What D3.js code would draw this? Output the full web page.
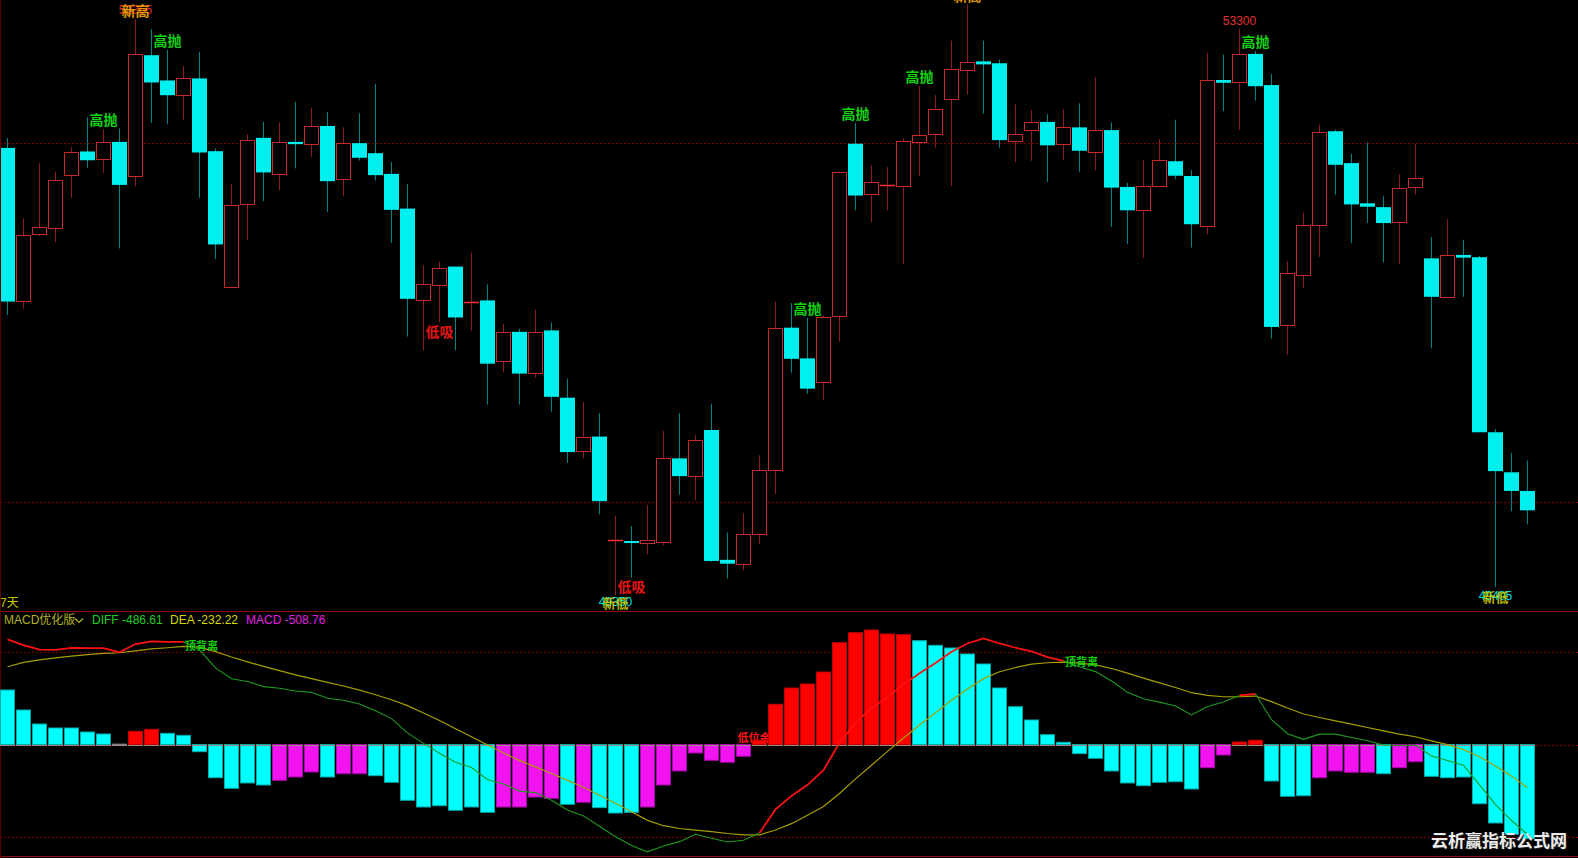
<!DOCTYPE html>
<html><head><meta charset="utf-8">
<script src="https://cdn.jsdelivr.net/npm/d3@7"></script>
<style>
html,body{margin:0;padding:0;background:#000;overflow:hidden}
svg{display:block}
</style></head><body>
<svg id="c" width="1578" height="858"></svg>
<script>
// ---------- data ----------
const opens  = [52468,51397,51862,51911,52280,52443,52385,52510,52273,53114,52938,52835,52952,52445,51496,52074,52538,52285,52510,52499,52621,52245,52501,52431,52287,52045,51405,51513,51641,51386,51405,50985,51186,50901,51196,50727,50359,50456,49732,49728,49719,49725,50304,50177,50502,49597,49562,49774,50218,51215,51001,50830,51299,52497,52145,52204,52199,52511,52559,52803,53012,53071,53058,52522,52595,52649,52492,52611,52440,52592,52196,52036,52204,52375,52272,51926,52941,52922,53123,52906,51234,51583,51930,52584,52362,52082,52055,51953,52196,51698,51432,51722,51706,50486,50207,50077];
const highs  = [52538,51976,52362,52301,52473,52682,52598,52603,53365,53295,53151,53039,53137,52464,52217,52561,52649,52645,52789,52747,52719,52612,52710,52914,52369,52215,51651,51673,51641,51738,51516,51240,51207,51342,51251,50860,50697,50619,49903,49833,49979,50495,50619,50467,50684,49787,49923,50326,51394,51386,51283,51299,52302,52641,52348,52334,52535,52898,52836,53215,53470,53215,53083,52770,52730,52703,52738,52779,52961,52646,52224,52386,52529,52665,52313,53131,53117,53300,53144,52982,51679,52017,52630,52595,52426,52505,52131,52283,52495,51847,51971,51828,51716,50508,50343,50289];
const lows   = [51303,51347,51853,51813,52120,52329,52294,51767,52201,52642,52633,52666,52120,51693,51496,51827,52097,52173,52325,52405,52022,52134,52380,52241,51806,51153,51055,51253,51058,51193,50679,50904,50679,50868,50630,50272,50304,49914,49350,49473,49635,49698,50050,50012,49583,49467,49524,49708,50055,50901,50754,50711,51117,52033,51950,52033,51657,52270,52470,52204,52839,52706,52470,52370,52378,52231,52386,52302,52313,51917,51798,51703,52204,52250,51774,51866,52724,52595,52798,51139,51025,51491,51708,52142,51804,51944,51670,51657,52142,51071,51421,51430,50486,49405,49936,49844];
const closes = [51397,51858,51914,52243,52438,52382,52506,52210,53123,52924,52835,52956,52436,51795,52067,52520,52297,52506,52494,52624,52236,52499,52399,52278,52036,51416,51516,51632,51286,51397,50964,51186,50895,51186,50733,50348,50456,50006,49735,49717,49738,50307,50180,50429,49589,49570,49774,50221,51210,50998,50790,51286,52302,52136,52231,52212,52513,52559,52736,53015,53066,53050,52522,52568,52649,52486,52611,52448,52592,52191,52033,52204,52386,52274,51936,52941,52922,53120,52898,51220,51595,51930,52578,52350,52074,52058,51944,52188,52258,51430,51722,51703,50486,50215,50077,49942];

const diffVals = [568.6,537,513,512,522,521,521,498,543,557,555,555,512,414,355,341,313,304,289,282,250,239,219,183,140,63,6,-47,-96,-124,-189,-213,-252,-260,-301,-354,-386,-442,-499,-546,-580,-549,-525,-485,-507,-527,-518,-478,-351,-278,-218,-139,9,117,197,255,325,385,440,501,546,573,546,523,504,472,452,420,394,343,282,247,229,208,160,205,230,265,273,134,58,28,56,56,38,20,-3,-6,-4,-62,-87,-112,-218,-325,-411,-486.61];
const deaVals  = [420.5,444,457,468,478,486,493,496,506,517,523,530,526,502,473,447,422,399,376,356,336,316,294,269,242,210,170,130,85,42,-3,-46,-86,-121,-157,-194,-231,-274,-318,-364,-410,-439,-454,-463,-471,-481,-489,-489,-462,-428,-382,-335,-265,-186,-112,-37,35,105,172,239,300,356,393,416,434,442,445,440,430,411,386,359,333,308,280,266,258,258,262,232,197,165,146,128,110,92,74,56,42,20,-1,-28,-66,-116,-171,-232.22];
const macdVals = [294.6,186.5,110.8,89.2,89.2,67.6,56.8,2,71.2,82,60.5,49.7,-38.9,-179.5,-236.8,-208,-219,-193.7,-175.7,-148.6,-175.7,-157.7,-157.7,-168.6,-204.3,-301.6,-337.8,-330.8,-355.7,-337.8,-366.5,-337.8,-337.8,-283.8,-291,-323.4,-312.4,-341.4,-370.3,-366.5,-337.8,-218.9,-143.2,-45.9,-85.4,-96.2,-63.8,24.3,217.3,305.4,327,391.9,550.3,604.3,618.9,597.3,593.5,561,536.2,521.6,489.2,435.1,305.4,204.3,132.4,53,11.9,-49.7,-74.6,-143.2,-208,-222.7,-204.3,-201.1,-240.5,-125.4,-56.8,13.5,22.7,-197.3,-280,-276.8,-179.5,-143.2,-150.3,-150.3,-157.8,-125.4,-93,-171.9,-179.5,-175.7,-320,-424.3,-485.4,-508.76];
// bar state as shown by the indicator: C falling, M negative rising, R positive rising, G flat
const macdState = ("CCCCCCC"+"G"+"RR"+"CCCCCCC"+"MMM"+"C"+"MM"+"CCCCCCCC"+"MMMM"+"C"+"M"+"CCC"+"MMMMMMM"+"RRRRRRRRRR"+"CCCCCCCCCCCCCCCCCC"+"MM"+"RR"+"CCC"+"MMMM"+"C"+"MM"+"CCCCCCC").split("");

const priceGrid = [52500, 50000];
const macdGrid  = [500, 0, -500];
const sellIdx   = [6, 10, 50, 53, 57, 78];      // 高抛
const buyIdx    = [27, 39];                     // 低吸
const newHighIdx= [8, 60];                      // 新高
const newLowIdx = [38, 93];                     // 新低
const priceTagIdx = [77];                       // 53300
const topDivIdx = [12, 67];                     // 顶背离
const lowGoldIdx= [47];                         // 低位金叉

// ---------- scales ----------
const N = opens.length;
const x = d3.scaleBand().domain(d3.range(N)).range([0, 16 * N]);
const cx = i => x(i) + 7.5;
const y = d3.scaleLinear().domain([50000, 52500]).range([502, 143.3]);
const ym = d3.scaleLinear().domain([-500, 500]).range([837, 652]);
const crisp = v => Math.round(v) + 0.5;

const CJK = "'Noto Sans CJK SC', sans-serif";
const LAT = "'Liberation Sans', Arial, 'Noto Sans CJK SC', sans-serif";

const svg = d3.select('#c');
svg.append('rect').attr('width', 1578).attr('height', 858).attr('fill', '#000');
const defs = svg.append('defs');
defs.append('clipPath').attr('id', 'mainClip').append('rect').attr('x', 0).attr('y', 0).attr('width', 1578).attr('height', 611);
defs.append('clipPath').attr('id', 'macdClip').append('rect').attr('x', 0).attr('y', 612).attr('width', 1578).attr('height', 244);

// ---------- main pane ----------
const main = svg.append('g').attr('clip-path', 'url(#mainClip)');
main.selectAll('line.grid').data(priceGrid).join('line').attr('class', 'grid')
  .attr('x1', 0).attr('x2', 1578).attr('y1', d => crisp(y(d))).attr('y2', d => crisp(y(d)))
  .attr('stroke', '#7a0000').attr('stroke-dasharray', '2,2');

const candles = d3.range(N).map(i => ({ i, o: opens[i], h: highs[i], l: lows[i], c: closes[i], up: closes[i] >= opens[i] }));
const cg = main.append('g');
cg.selectAll('line.wick').data(candles).join('line').attr('class', 'wick')
  .attr('x1', d => cx(d.i)).attr('x2', d => cx(d.i))
  .attr('y1', d => y(d.h)).attr('y2', d => y(d.l))
  .attr('stroke', d => d.up ? '#8e1c1c' : '#008585').attr('stroke-width', 1);

candles.forEach(d => {
  const top = y(Math.max(d.o, d.c)), bot = y(Math.min(d.o, d.c));
  const h = bot - top;
  if (d.up) {
    if (h < 1.6) {
      cg.append('line').attr('x1', x(d.i)).attr('x2', x(d.i) + 15)
        .attr('y1', crisp(top)).attr('y2', crisp(top))
        .attr('stroke', '#ff2e2e').attr('stroke-width', 1.5);
    } else {
      cg.append('rect').attr('x', x(d.i) + 0.5).attr('y', crisp(top))
        .attr('width', 14).attr('height', Math.round(h))
        .attr('fill', '#000').attr('stroke', '#c42b2b').attr('stroke-width', 1);
    }
  } else {
    cg.append('rect').attr('x', x(d.i)).attr('y', top)
      .attr('width', 15).attr('height', Math.max(h, 2))
      .attr('fill', '#00efef');
  }
});

// annotations
const lab = main.append('g').attr('font-family', CJK).attr('text-anchor', 'middle').attr('dominant-baseline', 'central');
lab.selectAll('text.sell').data(sellIdx).join('text').attr('class', 'sell')
  .attr('x', i => cx(i)).attr('y', i => y(highs[i]) - 10)
  .attr('font-size', 14).attr('font-weight', 700).attr('fill', '#12d512').text('高抛');
lab.selectAll('text.buy').data(buyIdx).join('text').attr('class', 'buy')
  .attr('x', i => cx(i)).attr('y', i => y(lows[i]) + 8.5)
  .attr('font-size', 14).attr('font-weight', 700).attr('fill', '#e81414').text('低吸');
lab.selectAll('text.ptag').data(priceTagIdx).join('text').attr('class', 'ptag')
  .attr('x', i => cx(i)).attr('y', i => y(highs[i]) - 8)
  .attr('font-family', LAT).attr('font-size', 12).attr('fill', '#e03030').text(i => highs[i]);
newHighIdx.forEach(i => {
  lab.append('text').attr('x', cx(i)).attr('y', y(highs[i]) - 9.5)
    .attr('font-family', LAT).attr('font-size', 12).attr('fill', '#e02a2a').text(highs[i]);
  lab.append('text').attr('x', cx(i)).attr('y', y(highs[i]) - 9.5)
    .attr('font-size', 14).attr('font-weight', 700).attr('fill', '#ffb400').attr('fill-opacity', 0.85).text('新高');
});
newLowIdx.forEach(i => {
  const yy = Math.min(y(lows[i]) + 9, 602);
  lab.append('text').attr('x', cx(i)).attr('y', yy)
    .attr('font-family', LAT).attr('font-size', 12).attr('fill', '#00e0e0').text(lows[i]);
  lab.append('text').attr('x', cx(i)).attr('y', yy)
    .attr('font-size', 13).attr('font-weight', 700).attr('fill', '#d6d600').attr('fill-opacity', 0.85).text('新低');
});
main.append('text').attr('x', 0).attr('y', 607).attr('font-family', LAT).attr('font-size', 12)
  .attr('fill', '#c8c800').text('7天');

// ---------- panel borders ----------
svg.append('line').attr('x1', 0).attr('x2', 1578).attr('y1', 611.5).attr('y2', 611.5).attr('stroke', '#8b1010');
svg.append('line').attr('x1', 0).attr('x2', 1578).attr('y1', 856.5).attr('y2', 856.5).attr('stroke', '#8b1010');
svg.append('line').attr('x1', 0.5).attr('x2', 0.5).attr('y1', 0).attr('y2', 858).attr('stroke', '#5a0000');

// ---------- MACD pane ----------
const mp = svg.append('g').attr('clip-path', 'url(#macdClip)');
mp.selectAll('line.grid').data(macdGrid).join('line').attr('class', 'grid')
  .attr('x1', 0).attr('x2', 1578).attr('y1', d => crisp(ym(d))).attr('y2', d => crisp(ym(d)))
  .attr('stroke', '#7a0000').attr('stroke-dasharray', '2,2');

mp.selectAll('text.gold').data(lowGoldIdx).join('text').attr('class', 'gold')
  .attr('x', i => cx(i)).attr('y', 737).attr('text-anchor', 'middle').attr('dominant-baseline', 'central')
  .attr('font-family', CJK).attr('font-size', 11).attr('font-weight', 700).attr('fill', '#ff1414').text('低位金叉');

const fillOf = { C: '#00ffff', M: '#f014f0', R: '#ff0000', G: '#808080' };
const strokeOf = { C: '#00a8a8', M: '#a800a8', R: '#c00000', G: '#808080' };
const bars = d3.range(N).map(i => ({ i, v: macdVals[i], s: macdState[i] }));
mp.selectAll('rect.bar').data(bars).join('rect').attr('class', 'bar')
  .attr('x', d => x(d.i) + 0.5)
  .attr('y', d => Math.min(ym(d.v), ym(0)))
  .attr('width', 14)
  .attr('height', d => Math.max(Math.abs(ym(d.v) - ym(0)), 0.5))
  .attr('fill', d => fillOf[d.s]).attr('stroke', d => strokeOf[d.s]).attr('stroke-width', 1);
mp.selectAll('line.zt').data(bars).join('line').attr('class', 'zt')
  .attr('x1', d => x(d.i)).attr('x2', d => x(d.i) + 15)
  .attr('y1', crisp(ym(0))).attr('y2', crisp(ym(0)))
  .attr('stroke', '#a08888').attr('stroke-width', 1);

const line = d3.line().x(d => cx(d.i)).y(d => ym(d.v));
mp.append('path').datum(d3.range(N).map(i => ({ i, v: deaVals[i] })))
  .attr('d', line).attr('fill', 'none').attr('stroke', '#a89e00').attr('stroke-width', 1.2);

// DIFF split into red (above DEA) / green runs
const above = i => diffVals[i] > deaVals[i];
let runs = [], cur = null;
for (let i = 1; i < N; i++) {
  const col = (above(i) && above(i - 1)) ? 'red' : 'green';
  if (!cur || cur.col !== col) { cur = { col, pts: [{ i: i - 1, v: diffVals[i - 1] }] }; runs.push(cur); }
  cur.pts.push({ i, v: diffVals[i] });
}
runs.forEach(r => mp.append('path').datum(r.pts).attr('d', line).attr('fill', 'none')
  .attr('stroke', r.col === 'red' ? '#ff1010' : '#1e9a1e').attr('stroke-width', r.col === 'red' ? 1.8 : 1.1));

mp.selectAll('text.div').data(topDivIdx).join('text').attr('class', 'div')
  .attr('x', i => cx(i) + 2).attr('y', i => ym(deaVals[i]) - 2)
  .attr('text-anchor', 'middle').attr('dominant-baseline', 'central')
  .attr('font-family', CJK).attr('font-size', 11).attr('font-weight', 700).attr('fill', '#10d010').text('顶背离');

// legend
const lg = svg.append('g').attr('font-family', LAT).attr('font-size', 12);
lg.append('text').attr('x', 4).attr('y', 624).attr('fill', '#b4b41e').text('MACD优化版');
lg.append('path').attr('d', 'M75,618.5 L79,622.5 L83,618.5').attr('fill', 'none').attr('stroke', '#b4b41e').attr('stroke-width', 1.2);
lg.append('text').attr('x', 92).attr('y', 624).attr('fill', '#20d020').text('DIFF ' + diffVals[N - 1].toFixed(2));
lg.append('text').attr('x', 170).attr('y', 624).attr('fill', '#d8d800').text('DEA ' + deaVals[N - 1].toFixed(2));
lg.append('text').attr('x', 246).attr('y', 624).attr('fill', '#e020e0').text('MACD ' + macdVals[N - 1].toFixed(2));

// watermark
svg.append('text').attr('x', 1567).attr('y', 847).attr('text-anchor', 'end')
  .attr('font-family', CJK).attr('font-size', 17).attr('font-weight', 700)
  .attr('fill', '#202020').attr('transform', 'translate(1,1)').text('云析赢指标公式网');
svg.append('text').attr('x', 1567).attr('y', 847).attr('text-anchor', 'end')
  .attr('font-family', CJK).attr('font-size', 17).attr('font-weight', 700)
  .attr('fill', '#ececec').text('云析赢指标公式网');
</script>
</body></html>
